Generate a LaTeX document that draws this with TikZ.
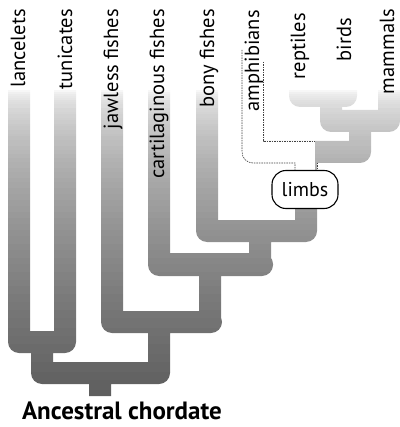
\documentclass[tikz,border=0pt]{standalone}
\usepackage{fontspec}
\setmainfont{PT Sans}
\begin{document}
\begin{tikzpicture}[x=1pt,y=-1pt,
  lbl/.style={rotate=90,anchor=base east,inner sep=0pt,font=\fontsize{20.5}{22}\selectfont},
  amphline/.style={black!75,line width=0.6pt,dash pattern=on 1.5pt off 1pt},
  limbbox/.style={draw,line width=1.1pt,rounded corners=14pt,fill=white,minimum width=66pt,minimum height=38pt,inner sep=0pt,font=\fontsize{20}{22}\selectfont},
  rootlbl/.style={anchor=base,inner sep=0pt,font=\bfseries\fontsize{25}{27}\selectfont}]
\useasboundingbox (0,0) rectangle (399,427);
\begin{scope}
\clip[rounded corners=11pt]
 (8,60) rectangle (30,353)
 (54,60) rectangle (76,353)
 (8,331) rectangle (76,353)
 (31,342) rectangle (53,384)
 (31,362) rectangle (170,384)
 (148,322) rectangle (170,384)
 (101,60) rectangle (123,333)
 (101,311) rectangle (222,333)
 (199,264) rectangle (221,333)
 (148,60) rectangle (170,276)
 (148,253) rectangle (273,276)
 (249,231) rectangle (271,276)
 (196,60) rectangle (218,242)
 (196,220) rectangle (317,242)
 (295,152) rectangle (317,242)
 (242,141) rectangle (371,163)
 (242,50) rectangle (264,163)
 (349,121) rectangle (371,163)
 (320,110) rectangle (400,132)
 (378,60) rectangle (400,132)
 (320,96) rectangle (342,132)
 (289,85) rectangle (357,107)
 (289,40) rectangle (311,107)
 (335,40) rectangle (357,107)
 [sharp corners] (89,373) rectangle (111,396);
\foreach \y in {90,92,...,400}{
  \pgfmathtruncatemacro{\p}{62*((\y-89)/291)^0.5}
  \fill[black!\p] (0,\y) rectangle (400,\y+2.4);
}
\fill[white] (230,0) rectangle (270,171);
\fill[white] (230,130) rectangle (315,171);
\end{scope}
\draw[amphline] (242,50) -- (242,152) to[out=-90,in=180] (253,163) -- (295,163) -- (295,171);
\draw[amphline] (263,62) -- (263,141) -- (315,141);
\draw[amphline] (317,163) -- (317,171);
\node[limbbox] (limbs) at (305,189.5) {limbs};
\node[lbl] (lan) at (25,9) {lancelets};
\node[lbl] (tun) at (72,9) {tunicates};
\node[lbl] (jaw) at (118,9) {jawless fishes};
\node[lbl] (car) at (164,9) {cartilaginous fishes};
\node[lbl] (bon) at (214,9) {bony fishes};
\node[lbl] (amp) at (259,10) {amphibians};
\node[lbl] (rep) at (305,13) {reptiles};
\node[lbl] (bir) at (351,18) {birds};
\node[lbl] (mam) at (394,9) {mammals};
\node[rootlbl] (anc) at (122,419) {Ancestral chordate};
\end{tikzpicture}
\end{document}
